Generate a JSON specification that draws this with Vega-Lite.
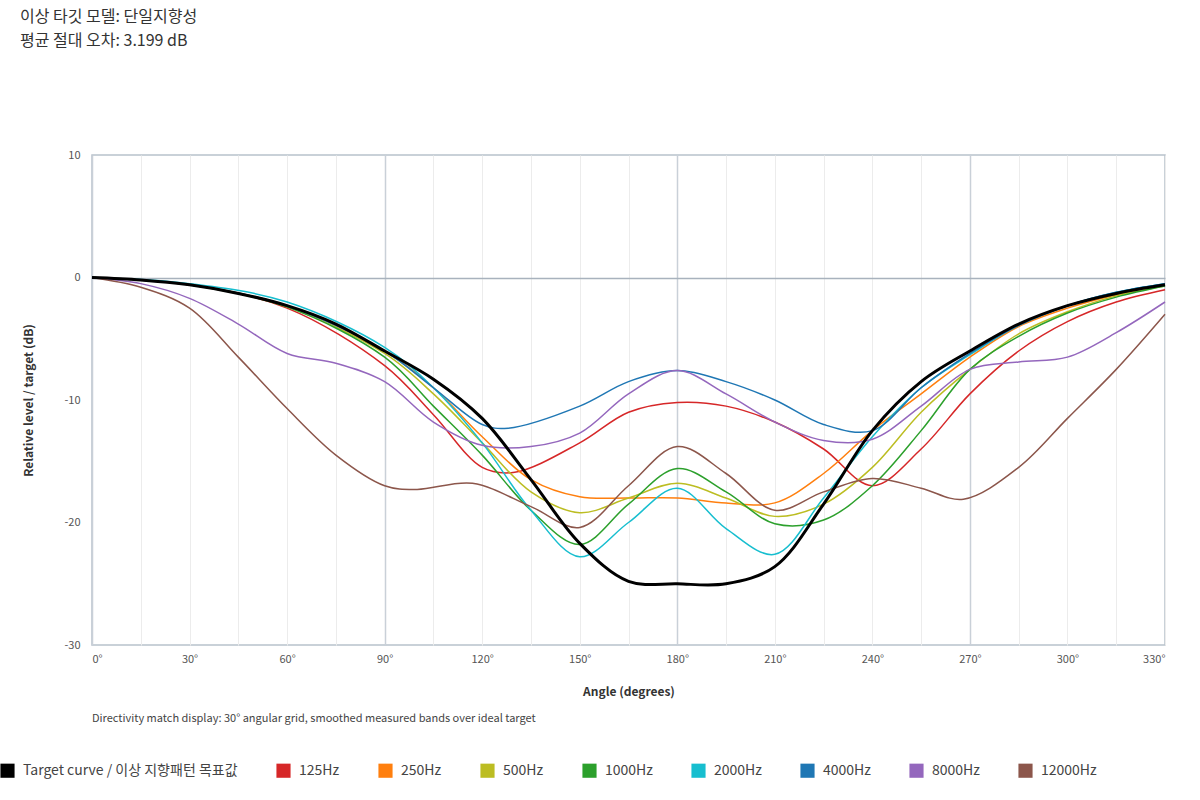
{
  "$schema": "https://vega.github.io/schema/vega-lite/v6.json",
  "width": 1073,
  "height": 490,
  "autosize": {"type": "none"},
  "padding": {"left": 92, "top": 155, "right": 35, "bottom": 155},
  "background": "white",
  "config": {
    "font": "Noto Sans CJK KR",
    "view": {"stroke": "#b8c2cc", "strokeWidth": 1.5}
  },
  "title": {
    "text": "이상 타깃 모델: 단일지향성",
    "subtitle": "평균 절대 오차: 3.199 dB",
    "anchor": "start",
    "frame": "group",
    "dx": -72,
    "offset": 100,
    "fontSize": 16,
    "fontWeight": "normal",
    "color": "#333",
    "subtitleFontSize": 16,
    "subtitleColor": "#333",
    "subtitlePadding": 8
  },
  "data": {"values": [
    {"a":0,"v":0,"s":"Target curve / 이상 지향패턴 목표값"},{"a":15,"v":-0.2,"s":"Target curve / 이상 지향패턴 목표값"},{"a":30,"v":-0.6,"s":"Target curve / 이상 지향패턴 목표값"},{"a":45,"v":-1.3,"s":"Target curve / 이상 지향패턴 목표값"},{"a":60,"v":-2.3,"s":"Target curve / 이상 지향패턴 목표값"},{"a":75,"v":-3.8,"s":"Target curve / 이상 지향패턴 목표값"},{"a":90,"v":-6,"s":"Target curve / 이상 지향패턴 목표값"},{"a":105,"v":-8.3,"s":"Target curve / 이상 지향패턴 목표값"},{"a":120,"v":-11.5,"s":"Target curve / 이상 지향패턴 목표값"},{"a":135,"v":-16.5,"s":"Target curve / 이상 지향패턴 목표값"},{"a":150,"v":-21.7,"s":"Target curve / 이상 지향패턴 목표값"},{"a":165,"v":-24.8,"s":"Target curve / 이상 지향패턴 목표값"},{"a":180,"v":-25,"s":"Target curve / 이상 지향패턴 목표값"},{"a":195,"v":-25,"s":"Target curve / 이상 지향패턴 목표값"},{"a":210,"v":-23.6,"s":"Target curve / 이상 지향패턴 목표값"},{"a":225,"v":-18.5,"s":"Target curve / 이상 지향패턴 목표값"},{"a":240,"v":-12.5,"s":"Target curve / 이상 지향패턴 목표값"},{"a":255,"v":-8.5,"s":"Target curve / 이상 지향패턴 목표값"},{"a":270,"v":-6,"s":"Target curve / 이상 지향패턴 목표값"},{"a":285,"v":-3.8,"s":"Target curve / 이상 지향패턴 목표값"},{"a":300,"v":-2.3,"s":"Target curve / 이상 지향패턴 목표값"},{"a":315,"v":-1.3,"s":"Target curve / 이상 지향패턴 목표값"},{"a":330,"v":-0.6,"s":"Target curve / 이상 지향패턴 목표값"},

    {"a":0,"v":0,"s":"125Hz"},{"a":30,"v":-0.6,"s":"125Hz"},{"a":60,"v":-2.5,"s":"125Hz"},{"a":90,"v":-7.2,"s":"125Hz"},{"a":105,"v":-11.2,"s":"125Hz"},{"a":120,"v":-15.5,"s":"125Hz"},{"a":130,"v":-15.9,"s":"125Hz"},{"a":150,"v":-13.5,"s":"125Hz"},{"a":165,"v":-11,"s":"125Hz"},{"a":180,"v":-10.2,"s":"125Hz"},{"a":195,"v":-10.5,"s":"125Hz"},{"a":210,"v":-11.8,"s":"125Hz"},{"a":225,"v":-14,"s":"125Hz"},{"a":240,"v":-17,"s":"125Hz"},{"a":255,"v":-14,"s":"125Hz"},{"a":270,"v":-9.5,"s":"125Hz"},{"a":285,"v":-6,"s":"125Hz"},{"a":300,"v":-3.6,"s":"125Hz"},{"a":315,"v":-2,"s":"125Hz"},{"a":330,"v":-1,"s":"125Hz"},

    {"a":0,"v":0,"s":"250Hz"},{"a":30,"v":-0.6,"s":"250Hz"},{"a":60,"v":-2.3,"s":"250Hz"},{"a":90,"v":-6,"s":"250Hz"},{"a":105,"v":-9,"s":"250Hz"},{"a":120,"v":-13,"s":"250Hz"},{"a":135,"v":-16.5,"s":"250Hz"},{"a":150,"v":-17.9,"s":"250Hz"},{"a":165,"v":-18,"s":"250Hz"},{"a":180,"v":-18,"s":"250Hz"},{"a":195,"v":-18.4,"s":"250Hz"},{"a":210,"v":-18.4,"s":"250Hz"},{"a":225,"v":-16,"s":"250Hz"},{"a":240,"v":-12.5,"s":"250Hz"},{"a":255,"v":-9.5,"s":"250Hz"},{"a":270,"v":-6.5,"s":"250Hz"},{"a":285,"v":-4,"s":"250Hz"},{"a":300,"v":-2.5,"s":"250Hz"},{"a":315,"v":-1.4,"s":"250Hz"},{"a":330,"v":-0.6,"s":"250Hz"},

    {"a":0,"v":0,"s":"500Hz"},{"a":30,"v":-0.6,"s":"500Hz"},{"a":60,"v":-2.4,"s":"500Hz"},{"a":90,"v":-6.2,"s":"500Hz"},{"a":105,"v":-9.5,"s":"500Hz"},{"a":120,"v":-13.5,"s":"500Hz"},{"a":135,"v":-17.5,"s":"500Hz"},{"a":150,"v":-19.2,"s":"500Hz"},{"a":165,"v":-18,"s":"500Hz"},{"a":180,"v":-16.8,"s":"500Hz"},{"a":195,"v":-18,"s":"500Hz"},{"a":210,"v":-19.5,"s":"500Hz"},{"a":225,"v":-18.5,"s":"500Hz"},{"a":240,"v":-15.5,"s":"500Hz"},{"a":255,"v":-11,"s":"500Hz"},{"a":270,"v":-7.5,"s":"500Hz"},{"a":285,"v":-4.6,"s":"500Hz"},{"a":300,"v":-2.8,"s":"500Hz"},{"a":315,"v":-1.5,"s":"500Hz"},{"a":330,"v":-0.7,"s":"500Hz"},

    {"a":0,"v":0,"s":"1000Hz"},{"a":30,"v":-0.6,"s":"1000Hz"},{"a":60,"v":-2.4,"s":"1000Hz"},{"a":90,"v":-6.5,"s":"1000Hz"},{"a":105,"v":-10.5,"s":"1000Hz"},{"a":120,"v":-14.5,"s":"1000Hz"},{"a":135,"v":-19,"s":"1000Hz"},{"a":150,"v":-21.8,"s":"1000Hz"},{"a":165,"v":-18.5,"s":"1000Hz"},{"a":180,"v":-15.6,"s":"1000Hz"},{"a":195,"v":-17.5,"s":"1000Hz"},{"a":210,"v":-20.1,"s":"1000Hz"},{"a":225,"v":-19.8,"s":"1000Hz"},{"a":240,"v":-17,"s":"1000Hz"},{"a":255,"v":-12.5,"s":"1000Hz"},{"a":270,"v":-7.5,"s":"1000Hz"},{"a":285,"v":-4.8,"s":"1000Hz"},{"a":300,"v":-2.9,"s":"1000Hz"},{"a":315,"v":-1.6,"s":"1000Hz"},{"a":330,"v":-0.7,"s":"1000Hz"},

    {"a":0,"v":0,"s":"2000Hz"},{"a":30,"v":-0.5,"s":"2000Hz"},{"a":60,"v":-2,"s":"2000Hz"},{"a":90,"v":-5.7,"s":"2000Hz"},{"a":105,"v":-9,"s":"2000Hz"},{"a":120,"v":-13.5,"s":"2000Hz"},{"a":135,"v":-19,"s":"2000Hz"},{"a":150,"v":-22.8,"s":"2000Hz"},{"a":165,"v":-20,"s":"2000Hz"},{"a":180,"v":-17.2,"s":"2000Hz"},{"a":195,"v":-20.5,"s":"2000Hz"},{"a":210,"v":-22.6,"s":"2000Hz"},{"a":225,"v":-18,"s":"2000Hz"},{"a":240,"v":-13,"s":"2000Hz"},{"a":255,"v":-9,"s":"2000Hz"},{"a":270,"v":-6.3,"s":"2000Hz"},{"a":285,"v":-3.9,"s":"2000Hz"},{"a":300,"v":-2.3,"s":"2000Hz"},{"a":315,"v":-1.2,"s":"2000Hz"},{"a":330,"v":-0.5,"s":"2000Hz"},

    {"a":0,"v":0,"s":"4000Hz"},{"a":30,"v":-0.6,"s":"4000Hz"},{"a":60,"v":-2.3,"s":"4000Hz"},{"a":90,"v":-6,"s":"4000Hz"},{"a":105,"v":-9,"s":"4000Hz"},{"a":120,"v":-12,"s":"4000Hz"},{"a":128,"v":-12.3,"s":"4000Hz"},{"a":150,"v":-10.5,"s":"4000Hz"},{"a":165,"v":-8.5,"s":"4000Hz"},{"a":180,"v":-7.6,"s":"4000Hz"},{"a":195,"v":-8.5,"s":"4000Hz"},{"a":210,"v":-10,"s":"4000Hz"},{"a":225,"v":-12,"s":"4000Hz"},{"a":240,"v":-12.5,"s":"4000Hz"},{"a":255,"v":-9,"s":"4000Hz"},{"a":270,"v":-6.2,"s":"4000Hz"},{"a":285,"v":-3.9,"s":"4000Hz"},{"a":300,"v":-2.3,"s":"4000Hz"},{"a":315,"v":-1.2,"s":"4000Hz"},{"a":330,"v":-0.5,"s":"4000Hz"},

    {"a":0,"v":0,"s":"8000Hz"},{"a":15,"v":-0.5,"s":"8000Hz"},{"a":30,"v":-1.7,"s":"8000Hz"},{"a":45,"v":-3.8,"s":"8000Hz"},{"a":60,"v":-6.2,"s":"8000Hz"},{"a":75,"v":-7,"s":"8000Hz"},{"a":90,"v":-8.5,"s":"8000Hz"},{"a":105,"v":-11.8,"s":"8000Hz"},{"a":120,"v":-13.7,"s":"8000Hz"},{"a":135,"v":-13.8,"s":"8000Hz"},{"a":150,"v":-12.7,"s":"8000Hz"},{"a":165,"v":-9.5,"s":"8000Hz"},{"a":180,"v":-7.6,"s":"8000Hz"},{"a":195,"v":-9.5,"s":"8000Hz"},{"a":210,"v":-11.8,"s":"8000Hz"},{"a":225,"v":-13.3,"s":"8000Hz"},{"a":240,"v":-13.2,"s":"8000Hz"},{"a":255,"v":-10.5,"s":"8000Hz"},{"a":270,"v":-7.5,"s":"8000Hz"},{"a":285,"v":-6.9,"s":"8000Hz"},{"a":300,"v":-6.5,"s":"8000Hz"},{"a":315,"v":-4.5,"s":"8000Hz"},{"a":330,"v":-2,"s":"8000Hz"},

    {"a":0,"v":0,"s":"12000Hz"},{"a":15,"v":-0.8,"s":"12000Hz"},{"a":30,"v":-2.5,"s":"12000Hz"},{"a":45,"v":-6.5,"s":"12000Hz"},{"a":60,"v":-10.7,"s":"12000Hz"},{"a":75,"v":-14.5,"s":"12000Hz"},{"a":90,"v":-17,"s":"12000Hz"},{"a":100,"v":-17.3,"s":"12000Hz"},{"a":117,"v":-16.8,"s":"12000Hz"},{"a":135,"v":-18.7,"s":"12000Hz"},{"a":150,"v":-20.4,"s":"12000Hz"},{"a":165,"v":-17,"s":"12000Hz"},{"a":180,"v":-13.8,"s":"12000Hz"},{"a":195,"v":-16,"s":"12000Hz"},{"a":210,"v":-19,"s":"12000Hz"},{"a":225,"v":-17.5,"s":"12000Hz"},{"a":240,"v":-16.4,"s":"12000Hz"},{"a":255,"v":-17.2,"s":"12000Hz"},{"a":268,"v":-18.1,"s":"12000Hz"},{"a":285,"v":-15.5,"s":"12000Hz"},{"a":300,"v":-11.5,"s":"12000Hz"},{"a":315,"v":-7.5,"s":"12000Hz"},{"a":330,"v":-3,"s":"12000Hz"}
  ]},
  "layer": [
    {
      "mark": {"type": "line", "interpolate": "catmull-rom", "strokeWidth": 1.5},
      "transform": [{"filter": "datum.s !== 'Target curve / 이상 지향패턴 목표값'"}],
      "encoding": {
        "x": {
          "field": "a", "type": "quantitative",
          "scale": {"domain": [0, 330], "nice": false, "zero": false},
          "axis": {
            "title": "Angle (degrees)", "titleFontSize": 12, "titleColor": "#333", "titlePadding": 22,
            "values": [0,15,30,45,60,75,90,105,120,135,150,165,180,195,210,225,240,255,270,285,300,315,330],
            "labelExpr": "datum.value % 30 === 0 ? datum.value + '°' : ''",
            "labelFontSize": 11, "labelColor": "#555", "labelPadding": 8,
            "domain": false, "ticks": false,
            "gridColor": {"condition": {"test": "datum.value % 90 === 0", "value": "#c9d0d8"}, "value": "#ececec"},
            "gridWidth": {"condition": {"test": "datum.value % 90 === 0", "value": 1.5}, "value": 1}
          }
        },
        "y": {
          "field": "v", "type": "quantitative",
          "scale": {"domain": [-30, 10], "nice": false},
          "axis": {
            "title": "Relative level / target (dB)", "titleFontSize": 12, "titleColor": "#333", "titlePadding": 28,
            "values": [-30,-25,-20,-15,-10,-5,0,5,10],
            "labelExpr": "datum.value % 10 === 0 ? datum.value : ''",
            "labelFontSize": 11, "labelColor": "#555", "labelPadding": 12,
            "domain": false, "ticks": false,
            "gridColor": {"condition": {"test": "datum.value === 0", "value": "#a8b2bd"}, "value": {"expr": "datum.value % 10 === 0 ? '#d5dae0' : '#ececec'"}},
            "gridWidth": {"condition": {"test": "datum.value === 0", "value": 1.5}, "value": 1}
          }
        },
        "color": {
          "field": "s", "type": "nominal",
          "scale": {
            "domain": ["Target curve / 이상 지향패턴 목표값","125Hz","250Hz","500Hz","1000Hz","2000Hz","4000Hz","8000Hz","12000Hz"],
            "range": ["#000000","#d62728","#ff7f0e","#bcbd22","#2ca02c","#17becf","#1f77b4","#9467bd","#8c564b"]
          },
          "legend": {
            "title": null, "orient": "none", "legendX": -92, "legendY": 608,
            "direction": "horizontal", "columns": 9, "symbolType": "square", "symbolSize": 200,
            "labelFontSize": 14, "labelColor": "#444", "columnPadding": 38, "labelLimit": 400, "labelOffset": 8,
            "encode": {"symbols": {"update": {"fill": {"scale": "color", "field": "value"}, "fillOpacity": {"value": 1}, "strokeWidth": {"value": 0}}}}
          }
        },
        "detail": {"field": "s"}
      }
    },
    {
      "mark": {"type": "line", "interpolate": "catmull-rom", "strokeWidth": 3, "color": "black"},
      "transform": [{"filter": "datum.s === 'Target curve / 이상 지향패턴 목표값'"}],
      "encoding": {
        "x": {"field": "a", "type": "quantitative"},
        "y": {"field": "v", "type": "quantitative"}
      }
    },
    {
      "data": {"values": [{"t": "Directivity match display: 30° angular grid, smoothed measured bands over ideal target"}]},
      "mark": {"type": "text", "align": "left", "baseline": "middle", "dy": 74, "fontSize": 11, "color": "#444"},
      "encoding": {"x": {"datum": 0}, "y": {"datum": -30}, "text": {"field": "t"}}
    }
  ]
}
